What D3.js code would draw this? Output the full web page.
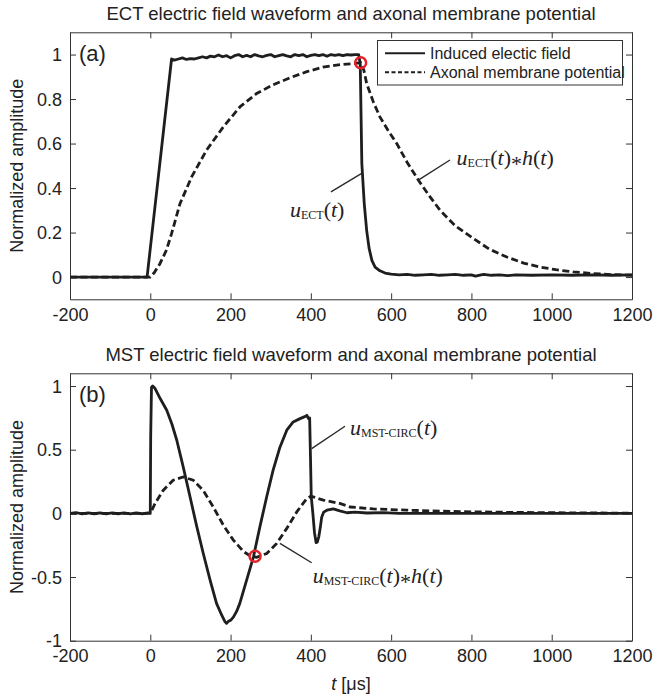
<!DOCTYPE html>
<html><head><meta charset="utf-8">
<script src="https://cdn.jsdelivr.net/npm/d3@7"></script>
<style>body{margin:0;background:#fff}svg{display:block}</style>
</head><body>
<svg id="chart" width="653" height="698"></svg>
<script>
// ---------------- DATA ----------------
const xTicks = [-200, 0, 200, 400, 600, 800, 1000, 1200];
const ectYTicks = [0, 0.2, 0.4, 0.6, 0.8, 1];
const mstYTicks = [-1, -0.5, 0, 0.5, 1];
const titles = ["ECT electric field waveform and axonal membrane potential",
                "MST electric field waveform and axonal membrane potential"];
const panelLabels = ["(a)", "(b)"];
const legendLabels = ["Induced electic field", "Axonal membrane potential"];
const yLabel = "Normalized amplitude";

// ECT induced electric field [t (µs), amplitude]
const ectField = [[-200,0],[-100,0],[-8,0],[53,0.98],[60,0.975],[70,0.98],[80,0.985],[90,0.978],[100,0.982],
 [110,0.98],[120,0.985],[130,0.99],[140,0.985],[150,0.993],[160,0.99],[170,0.998],[180,0.99],[190,0.995],
 [200,0.985],[210,0.995],[220,1.0],[230,0.99],[240,0.996],[250,0.99],[260,1.0],[270,0.994],[280,0.99],
 [290,0.996],[300,1.0],[310,0.99],[320,0.995],[330,1.0],[340,0.994],[350,0.99],[360,1.0],[370,0.995],
 [380,1.0],[390,0.99],[400,0.996],[410,1.0],[420,0.995],[430,1.0],[440,0.992],[450,1.0],[460,0.996],
 [470,1.0],[480,0.995],[490,1.0],[500,0.998],[510,1.0],[519,1.0],[523,0.96],[527,0.51],[533,0.33],
 [539,0.21],[545,0.13],[552,0.075],[560,0.045],[572,0.028],[585,0.018],[600,0.013],[620,0.01],[640,0.012],
 [660,0.008],[680,0.01],[700,0.012],[720,0.008],[740,0.01],[760,0.012],[780,0.008],[800,0.01],[810,0.004],
 [830,0.012],[850,0.008],[870,0.01],[890,0.006],[910,0.01],[950,0.008],[1000,0.01],[1050,0.008],
 [1100,0.01],[1150,0.008],[1200,0.01]];
// ECT axonal membrane potential
const ectMembrane = [[-200,0],[-100,0],[0,0],[10,0.02],[24,0.06],[40,0.12],[53,0.195],[74,0.33],[103,0.45],
 [140,0.57],[182,0.675],[224,0.766],[265,0.825],[306,0.864],[350,0.897],[390,0.923],[430,0.943],[473,0.955],
 [500,0.958],[515,0.961],[524,0.963],[532,0.93],[539,0.87],[555,0.79],[572,0.72],[592,0.66],[614,0.6],
 [640,0.515],[668,0.435],[695,0.365],[722,0.3],[760,0.23],[805,0.173],[845,0.125],[888,0.09],[930,0.063],
 [971,0.045],[1010,0.033],[1054,0.023],[1100,0.016],[1150,0.011],[1200,0.008]];
// MST-CIRC induced electric field
const mstField = [[-200,0],[-185,0.005],[-170,-0.004],[-155,0.004],[-140,-0.003],[-125,0.004],[-110,-0.004],
 [-95,0.003],[-80,-0.003],[-65,0.004],[-50,-0.004],[-35,0.003],[-20,-0.003],[-5,0.003],[0,0.005],[1,0.6],
 [3,0.99],[6,1.0],[12,0.98],[25,0.9],[41,0.81],[54,0.7],[66,0.574],[82,0.365],[99,0.13],[116,-0.106],
 [132,-0.315],[149,-0.524],[165,-0.707],[178,-0.8],[186,-0.85],[190,-0.864],[194,-0.85],[200,-0.84],
 [207,-0.815],[215,-0.77],[223,-0.707],[240,-0.524],[257,-0.341],[273,-0.106],[290,0.13],[306,0.339],
 [323,0.52],[340,0.653],[356,0.718],[373,0.744],[385,0.76],[390,0.77],[394,0.745],[397,0.75],[399,0.45],
 [401,0.13],[405,0.0],[409,-0.15],[413,-0.23],[416,-0.225],[420,-0.18],[424,-0.1],[427,-0.03],[432,0.01],
 [440,0.025],[456,0.035],[472,0.02],[490,0.005],[510,0.01],[540,0.003],[580,0.006],[620,0],[700,0],
 [800,0],[900,0],[1000,0],[1100,0],[1200,0]];
// MST-CIRC axonal membrane potential
const mstMembrane = [[-200,0],[-100,0],[0,0],[12,0.078],[32,0.18],[57,0.26],[82,0.286],[107,0.26],[132,0.18],
 [157,0.05],[182,-0.093],[207,-0.21],[232,-0.3],[250,-0.335],[265,-0.345],[290,-0.315],[315,-0.236],
 [340,-0.118],[365,0.012],[390,0.117],[400,0.135],[410,0.125],[431,0.104],[472,0.078],[498,0.05],
 [556,0.035],[639,0.025],[722,0.018],[805,0.012],[900,0.008],[1000,0.005],[1100,0.003],[1200,0.002]];
// highlighted crossing points
const ectMarker = [524, 0.963];
const mstMarker = [261, -0.336];

// ---------------- DRAW ----------------
const svg = d3.select("#chart");
const ink = "#1e1e1e", axisInk = "#333";
const sans = "'Liberation Sans', Arial, sans-serif";
const serif = "'Liberation Serif', 'Times New Roman', serif";

const x = d3.scaleLinear().domain([-200, 1200]).range([70, 632]);

function panel(opts) {
  const y = d3.scaleLinear().domain(opts.yDomain).range([opts.bottom, opts.top]);
  const g = svg.append("g");
  const fmt = d => String(d);

  // title
  g.append("text").attr("x", 351).attr("y", opts.top - 12.5)
    .attr("text-anchor", "middle").attr("font-family", sans).attr("font-size", 18.5)
    .attr("fill", "#222").text(opts.title);

  // axes (box with inward ticks)
  const styleAxis = sel => {
    sel.selectAll("path,line").attr("stroke", axisInk).attr("stroke-width", 1);
    sel.selectAll("text").attr("font-family", sans).attr("font-size", 18).attr("fill", "#222");
  };
  const gb = g.append("g").attr("transform", `translate(0,${opts.bottom})`)
    .call(d3.axisBottom(x).tickValues(xTicks).tickFormat(fmt).tickSizeInner(-6).tickSizeOuter(0));
  gb.selectAll("text").attr("y", 9).attr("dy", "0.71em");
  styleAxis(gb);
  const gt = g.append("g").attr("transform", `translate(0,${opts.top})`)
    .call(d3.axisTop(x).tickValues(xTicks).tickFormat("").tickSizeInner(-6).tickSizeOuter(0));
  styleAxis(gt);
  const gl = g.append("g").attr("transform", `translate(70,0)`)
    .call(d3.axisLeft(y).tickValues(opts.yTicks).tickFormat(fmt).tickSizeInner(-6).tickSizeOuter(0));
  gl.selectAll("text").attr("x", -8).attr("dy", "0.34em");
  styleAxis(gl);
  const gr = g.append("g").attr("transform", `translate(632,0)`)
    .call(d3.axisRight(y).tickValues(opts.yTicks).tickFormat("").tickSizeInner(-6).tickSizeOuter(0));
  styleAxis(gr);

  // y label
  g.append("text").attr("transform", `translate(23,${(opts.top + opts.bottom) / 2}) rotate(-90)`)
    .attr("text-anchor", "middle").attr("font-family", sans).attr("font-size", 18)
    .attr("fill", "#222").text(yLabel);

  // panel label
  g.append("text").attr("x", 79).attr("y", opts.top + 29).attr("font-family", sans)
    .attr("font-size", 22).attr("fill", "#222").text(opts.label);

  // curves
  const line = d3.line().x(d => x(d[0])).y(d => y(d[1]));
  g.append("path").datum(opts.membrane).attr("d", line).attr("fill", "none")
    .attr("stroke", ink).attr("stroke-width", 2.8).attr("stroke-dasharray", "7,3.5");
  g.append("path").datum(opts.field).attr("d", line).attr("fill", "none")
    .attr("stroke", ink).attr("stroke-width", 2.8).attr("stroke-linejoin", "round");

  // marker
  g.append("circle").attr("cx", x(opts.marker[0])).attr("cy", y(opts.marker[1])).attr("r", 5.5)
    .attr("fill", "none").attr("stroke", "#e62129").attr("stroke-width", 2.5);

  // annotations
  opts.notes.forEach(n => {
    g.append("line").attr("x1", x(n.from[0])).attr("y1", y(n.from[1]))
      .attr("x2", x(n.to[0])).attr("y2", y(n.to[1])).attr("stroke", "#2a2a2a").attr("stroke-width", 1.4);
    const t = g.append("text").attr("x", x(n.at[0])).attr("y", y(n.at[1]))
      .attr("font-family", serif).attr("font-size", 22).attr("fill", "#222");
    n.parts.forEach(p => {
      const s = t.append("tspan").text(p[0]);
      if (p[1] === "i") s.attr("font-style", "italic");
      if (p[1] === "sub") s.attr("font-size", 12).attr("dy", 2);
      if (p[1] === "back") s.attr("dy", -2);
      if (p[1] === "star") s.attr("dy", 6);
      if (p[1] === "unstar") s.attr("dy", -6).attr("font-style", "italic");
    });
  });
  return y;
}

panel({
  top: 32.3, bottom: 299.3, yDomain: [-0.1, 1.1], yTicks: ectYTicks,
  title: titles[0], label: panelLabels[0],
  field: ectField, membrane: ectMembrane, marker: ectMarker,
  notes: [
    { at: [348, 0.27], from: [450, 0.383], to: [526.6, 0.466],
      parts: [["u","i"],["ECT","sub"],["(","back"],["t","i"],[")",""]] },
    { at: [763, 0.503], from: [746.6, 0.526], to: [667.7, 0.436],
      parts: [["u","i"],["ECT","sub"],["(","back"],["t","i"],[")",""],["*","star"],["h","unstar"],["(",""],["t","i"],[")",""]] }
  ]
});

panel({
  top: 373.3, bottom: 640.7, yDomain: [-1, 1.1], yTicks: mstYTicks,
  title: titles[1], label: panelLabels[1],
  field: mstField, membrane: mstMembrane, marker: mstMarker,
  notes: [
    { at: [497.5, 0.613], from: [402, 0.509], to: [485, 0.684],
      parts: [["u","i"],["MST-CIRC","sub"],["(","back"],["t","i"],[")",""]] },
    { at: [404.6, -0.547], from: [323, -0.236], to: [402, -0.388],
      parts: [["u","i"],["MST-CIRC","sub"],["(","back"],["t","i"],[")",""],["*","star"],["h","unstar"],["(",""],["t","i"],[")",""]] }
  ]
});

// legend (top panel)
const lg = svg.append("g");
lg.append("rect").attr("x", 377.5).attr("y", 40.5).attr("width", 245).attr("height", 44.5)
  .attr("fill", "#fff").attr("stroke", axisInk).attr("stroke-width", 1);
legendLabels.forEach((lab, i) => {
  const yy = 53.3 + i * 19;
  lg.append("line").attr("x1", 385).attr("x2", 425).attr("y1", yy).attr("y2", yy)
    .attr("stroke", ink).attr("stroke-width", 2).attr("stroke-dasharray", i ? "4,2.5" : null);
  lg.append("text").attr("x", 430).attr("y", yy).attr("dy", "0.35em")
    .attr("font-family", sans).attr("font-size", 16).attr("fill", "#222").text(lab);
});

// x label
const xl = svg.append("text").attr("x", 351).attr("y", 690).attr("text-anchor", "middle")
  .attr("font-family", sans).attr("font-size", 18).attr("fill", "#222");
xl.append("tspan").attr("font-style", "italic").text("t");
xl.append("tspan").text(" [\u03bcs]");
</script>
</body></html>
